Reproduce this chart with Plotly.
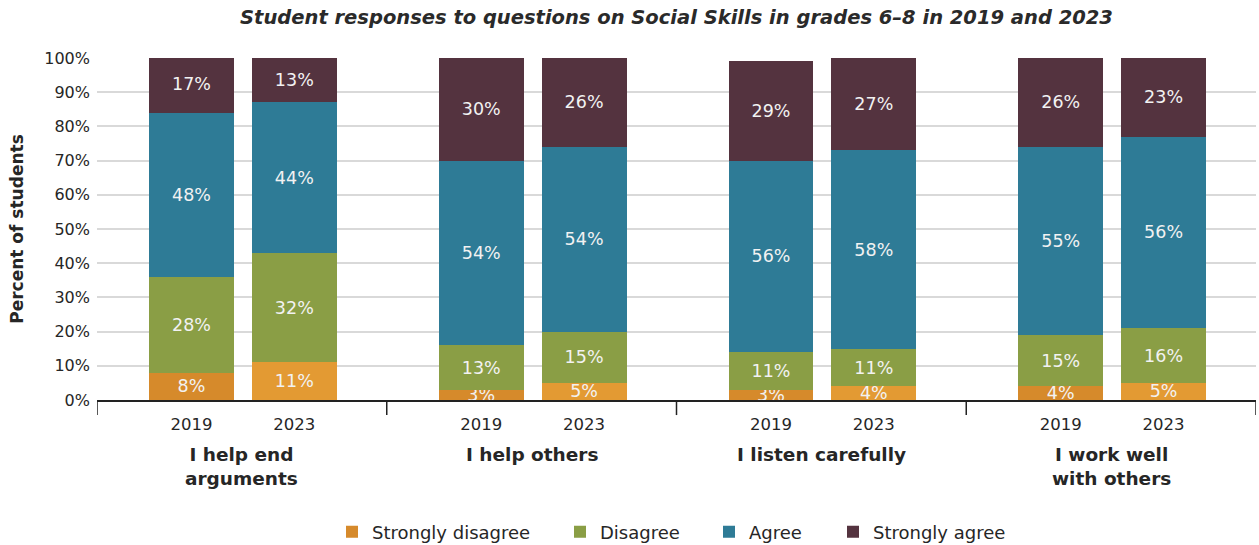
import plotly.graph_objects as go

# Survey items and survey years
categories = ["I help end<br>arguments", "I help others", "I listen carefully", "I work well<br>with others"]
years = ["2019", "2023"]

# Percent of students per response, listed as [cat0-2019, cat0-2023, cat1-2019, ...]
strongly_disagree = [8, 11, 3, 5, 3, 4, 4, 5]
disagree = [28, 32, 13, 15, 11, 11, 15, 16]
agree = [48, 44, 54, 54, 56, 58, 55, 56]
strongly_agree = [17, 13, 30, 26, 29, 27, 26, 23]

series = [
    ("Strongly disagree", strongly_disagree, ["#D68A2B", "#E39A33"]),
    ("Disagree", disagree, ["#8A9E45", "#8A9E45"]),
    ("Agree", agree, ["#2E7B96", "#2E7B96"]),
    ("Strongly agree", strongly_agree, ["#54333F", "#54333F"]),
]

FONT = "DejaVu Sans"
TEXT = "#262626"
YEAR_OFFSET = [0.326, 0.681]
BAR_WIDTH = 0.293
# left edge (px) of each legend entry's swatch along the bottom row
LEGEND_LEFT_PX = [345, 573, 722, 846]
W, H = 1259, 545

# x position of each bar: group index plus offset of the year inside the group
xpos = [g + YEAR_OFFSET[y] for g in range(len(categories)) for y in range(len(years))]
year_labels = [years[y] for g in range(len(categories)) for y in range(len(years))]

legend_ids = ["legend"] + [f"legend{i + 1}" for i in range(1, len(series))]

fig = go.Figure()
for (name, vals, cols), lid in zip(series, legend_ids):
    fig.add_trace(go.Bar(
        name=name,
        x=xpos,
        y=vals,
        width=BAR_WIDTH,
        marker=dict(color=[cols[i % 2] for i in range(len(vals))], line=dict(width=0)),
        text=[f"{v}%" for v in vals],
        textposition="inside",
        insidetextanchor="middle",
        constraintext="none",
        textfont=dict(family=FONT, size=17.5, color="#F2F2F2"),
        hoverinfo="skip",
        legend=lid,
    ))

# group divider ticks below the axis line
shapes = [
    dict(type="line", xref="x", yref="paper", x0=g, x1=g, y0=0, y1=-0.044,
         line=dict(color="#222222", width=1.5))
    for g in range(len(categories) + 1)
]

# group names under the year labels
annotations = [
    dict(text=f"<b>{c}</b>", x=g + 0.5, xref="x", y=-0.124, yref="paper",
         yanchor="top", xanchor="center", showarrow=False,
         font=dict(family=FONT, size=18.5, color=TEXT))
    for g, c in enumerate(categories)
]

fig.update_layout(
    barmode="stack",
    width=W, height=H,
    margin=dict(l=97, r=3, t=58, b=145, autoexpand=False),
    paper_bgcolor="white", plot_bgcolor="white",
    title=dict(
        text="<b><i>Student responses to questions on Social Skills in grades 6–8 in 2019 and 2023</i></b>",
        x=0.5, xref="paper", xanchor="center", y=0.968, yanchor="middle",
        font=dict(family=FONT, size=19.5, color="#2A2A2A"),
    ),
    xaxis=dict(
        range=[0, 4], tickvals=xpos, ticktext=year_labels,
        showline=True, linecolor="#222222", linewidth=1.5,
        showgrid=False, zeroline=False, ticks="", ticklabelstandoff=8,
        tickfont=dict(family=FONT, size=16.5, color=TEXT),
        fixedrange=True,
    ),
    yaxis=dict(
        range=[0, 100], tickvals=list(range(0, 101, 10)),
        ticktext=[f"{v}%" for v in range(0, 101, 10)],
        showgrid=True, gridcolor="#D9D9D9", gridwidth=1.5,
        zeroline=False, showline=False, ticks="", ticklabelstandoff=6,
        tickfont=dict(family=FONT, size=16, color=TEXT),
        title=dict(text="<b>Percent of students</b>", standoff=16,
                   font=dict(family=FONT, size=17, color=TEXT)),
        fixedrange=True,
    ),
    shapes=shapes,
    annotations=annotations,
    showlegend=True,
)

# one single-entry legend per response so each swatch sits at its own spot
for lid, left in zip(legend_ids, LEGEND_LEFT_PX):
    fig.update_layout({lid: dict(
        orientation="h",
        xref="container", x=(left - 13) / W, xanchor="left",
        yref="container", y=1 - 532 / H, yanchor="middle",
        font=dict(family=FONT, size=18, color=TEXT),
        bgcolor="rgba(0,0,0,0)",
    )})

fig.write_html("out.html")
